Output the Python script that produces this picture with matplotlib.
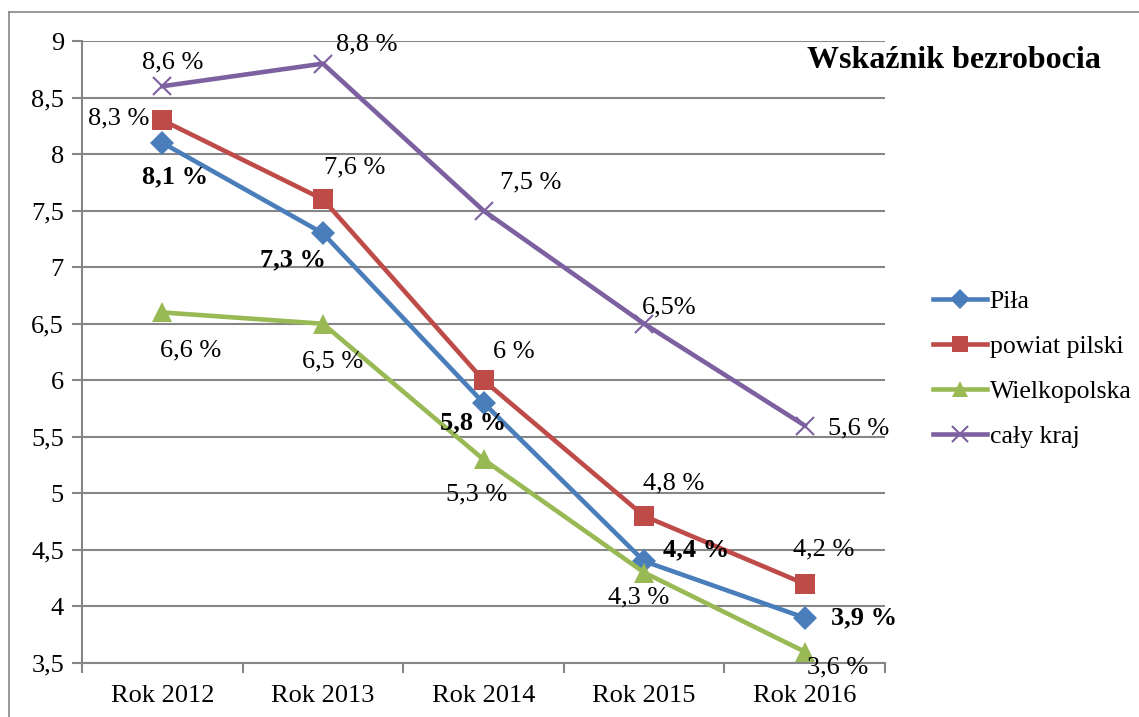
import matplotlib.pyplot as plt
from matplotlib.ticker import FuncFormatter, FixedLocator
from matplotlib.lines import Line2D

plt.rcParams['font.family'] = ['Liberation Serif', 'DejaVu Serif']

years = ['Rok 2012', 'Rok 2013', 'Rok 2014', 'Rok 2015', 'Rok 2016']
pila = [8.1, 7.3, 5.8, 4.4, 3.9]
powiat = [8.3, 7.6, 6.0, 4.8, 4.2]
wlkp = [6.6, 6.5, 5.3, 4.3, 3.6]
kraj = [8.6, 8.8, 7.5, 6.5, 5.6]

pila_lbl = ['8,1 %', '7,3 %', '5,8 %', '4,4 %', '3,9 %']
powiat_lbl = ['8,3 %', '7,6 %', '6 %', '4,8 %', '4,2 %']
wlkp_lbl = ['6,6 %', '6,5 %', '5,3 %', '4,3 %', '3,6 %']
kraj_lbl = ['8,6 %', '8,8 %', '7,5 %', '6,5%', '5,6 %']

# label offsets in pixels (dx right, dy down)
pila_off = [(13, 34), (-30, 27), (-10, 20), (52, -11), (59, 0)]
powiat_off = [(-44, -2), (32, -32), (30, -28), (30, -33), (19, -34)]
wlkp_off = [(28, 38), (10, 38), (-7, 35), (-5, 25), (33, 16)]
kraj_off = [(10, -24), (44, -19), (47, -28), (25, -16), (54, 3)]

fig = plt.figure(figsize=(11.39, 7.17), dpi=100)
ax = fig.add_axes([82/1139, 1-663/717, (885-82)/1139, (663-41)/717])

x = list(range(len(years)))
series = [
    ('Piła', pila, pila_lbl, pila_off, '#4A7EBB', 'D', 12, 'bold'),
    ('powiat pilski', powiat, powiat_lbl, powiat_off, '#BE4B48', 's', 14, 'normal'),
    ('Wielkopolska', wlkp, wlkp_lbl, wlkp_off, '#98B954', '^', 14, 'normal'),
    ('cały kraj', kraj, kraj_lbl, kraj_off, '#7D60A0', 'x', 13, 'normal'),
]

handles = []
for name, vals, lbls, offs, col, mk, ms, fw in series:
    ax.plot(x, vals, color=col, lw=3.3, marker=mk, markersize=ms,
            markeredgewidth=1.5 if mk == 'x' else 0, markeredgecolor=col, zorder=3)
    handles.append(Line2D([], [], color=col, lw=3.3, marker=mk, markersize=ms * 0.85,
                          markeredgewidth=1.5 if mk == 'x' else 0, markeredgecolor=col))
    for xi, v, t, (dx, dy) in zip(x, vals, lbls, offs):
        ax.annotate(t, (xi, v), xytext=(dx * 0.72, -dy * 0.72), textcoords='offset points',
                    ha='center', va='center', fontsize=19, fontweight=fw, zorder=4)

ax.set_xlim(-0.5, 4.5)
ax.set_ylim(3.5, 9)
ax.set_yticks([3.5 + 0.5 * i for i in range(12)])
ax.yaxis.set_major_formatter(FuncFormatter(lambda v, p: f'{v:g}'.replace('.', ',')))
ax.set_xticks(x)
ax.set_xticklabels(years)
ax.xaxis.set_minor_locator(FixedLocator([i - 0.5 for i in range(6)]))
ax.tick_params(axis='x', which='major', length=0, labelsize=19, pad=16)
ax.tick_params(axis='x', which='minor', length=7, color='#868686', width=1.5)
ax.tick_params(axis='y', length=7, color='#868686', width=1.5, labelsize=19, pad=6)
ax.grid(axis='y', color='#868686', lw=1.5)
ax.set_axisbelow(True)
for s in ['top', 'right']:
    ax.spines[s].set_visible(False)
for s in ['left', 'bottom']:
    ax.spines[s].set_color('#868686')
    ax.spines[s].set_linewidth(1.5)

fig.text(954/1139, 1-60/717, 'Wskaźnik bezrobocia', ha='center', va='center',
         fontsize=23, fontweight='bold')

fig.legend(handles, [s[0] for s in series], loc='center left',
           bbox_to_anchor=(915/1139, 1-369/717), frameon=False, fontsize=18.5,
           handlelength=2.1, handletextpad=0.1, labelspacing=0.85, borderpad=0.2)

# outer frame (only top and left visible)
fig.add_artist(Line2D([9/1139, 9/1139], [0, 1-12/717], color='#868686', lw=1.2))
fig.add_artist(Line2D([9/1139, 1], [1-12/717, 1-12/717], color='#868686', lw=1.2))

fig.savefig('out.png', dpi=100)
